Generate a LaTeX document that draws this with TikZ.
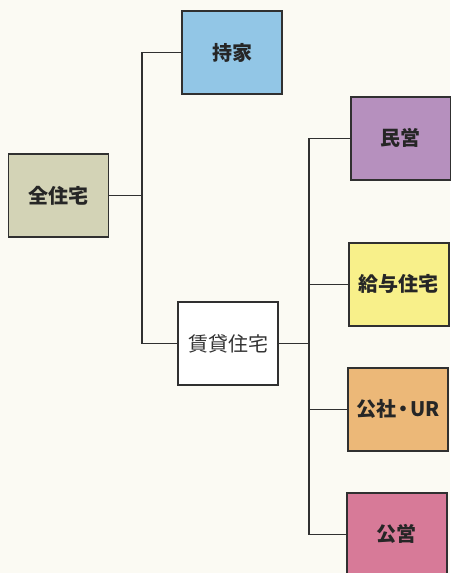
\documentclass[tikz,border=0pt]{standalone}
\usepackage{fontspec}
\newfontfamily\jp{Noto Sans CJK JP}
\definecolor{bgc}{HTML}{FBFAF3}
\definecolor{linec}{HTML}{303030}
\definecolor{c0}{HTML}{D3D3B6}
\definecolor{c1}{HTML}{92C6E6}
\definecolor{c2}{HTML}{B690BE}
\definecolor{c3}{HTML}{F8F08A}
\definecolor{c4}{HTML}{ECB878}
\definecolor{c5}{HTML}{D77A98}
\tikzset{
  box/.style={draw=linec, line width=1.6pt, minimum width=100pt, minimum height=83pt, inner sep=0pt, font=\jp\bfseries\fontsize{20}{22}\selectfont, text=black!85},
  conn/.style={draw=linec, line width=1.6pt},
}
\begin{document}
\begin{tikzpicture}[x=1pt,y=-1pt]
\fill[bgc] (0,0) rectangle (450,573);
\useasboundingbox (0,0) rectangle (450,573);
\node[box, fill=c0] (all) at (58.5,195.5) {全住宅};
\node[box, fill=c1] (own) at (232,52.5) {持家};
\node[box, fill=white, font=\jp\fontsize{20}{22}\selectfont, text=black!80] (rent) at (228,343.5) {賃貸住宅};
\node[box, fill=c2, anchor=north west] (priv) at (350,96) {民営};
\node[box, fill=c3, anchor=north west] (kyu) at (348,242) {給与住宅};
\node[box, fill=c4, anchor=north west] (ur) at (347,367) {公社\kern-3pt・\kern-3pt UR};
\node[box, fill=c5, anchor=north west] (pub) at (346,492) {公営};
\coordinate (t1) at (142,0);
\coordinate (t2) at (309,0);
\draw[conn] (all.east) -- (all.east -| t1);
\draw[conn] (own.west) -| (t1 |- rent.west) -- (rent.west);
\draw[conn] (rent.east) -- (rent.east -| t2);
\draw[conn] (priv.west) -| (t2 |- pub.west) -- (pub.west);
\draw[conn] (kyu.west) -- (kyu.west -| t2);
\draw[conn] (ur.west) -- (ur.west -| t2);
\end{tikzpicture}
\end{document}
